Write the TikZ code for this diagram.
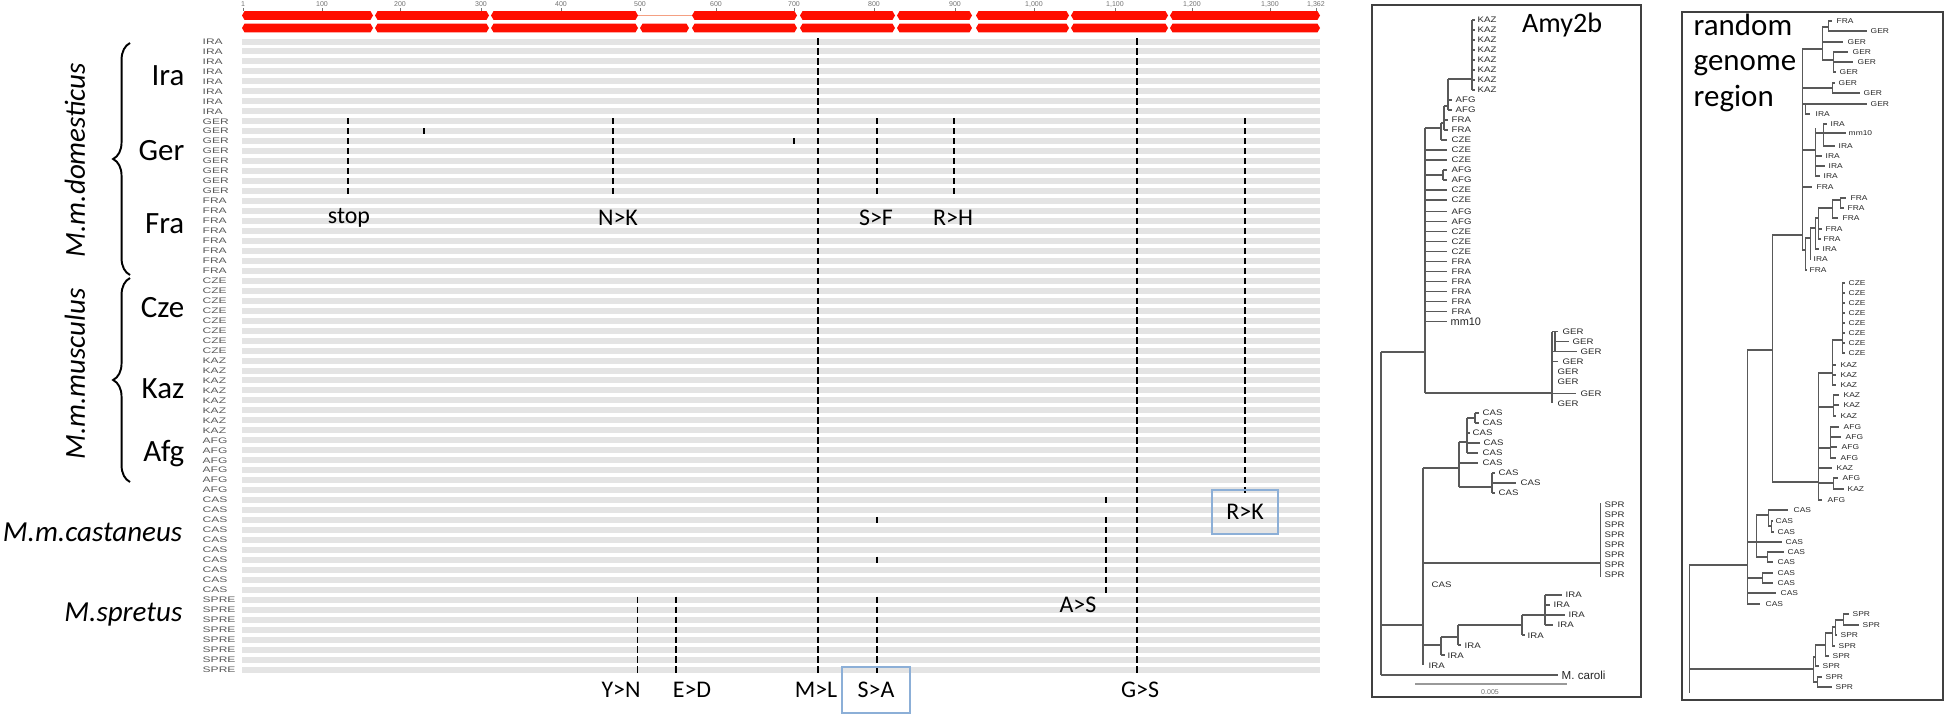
\documentclass[tikz,border=0pt]{standalone}
\usepackage{fontspec}
\setmainfont{Carlito}
\newfontfamily\labfont{Liberation Sans}
\usepackage{graphicx}
\usetikzlibrary{decorations.pathreplacing}
\definecolor{barcol}{RGB}{228,228,228}
\definecolor{segred}{RGB}{255,14,0}
\definecolor{thinorange}{RGB}{244,160,130}
\definecolor{boxblue}{RGB}{140,175,215}
\newcommand\mutmark[3]{\foreach \r in {#2}{\draw[line width=#3*0.2845pt] (#1,{41.5+9.97*\r-3.2}) -- (#1,{41.5+9.97*\r+3.2});}}
\newcommand\seg[3]{\fill[segred] (#1+2.5,#3-4.3) -- (#2-2.5,#3-4.3) -- (#2,#3) -- (#2-2.5,#3+4.3) -- (#1+2.5,#3+4.3) -- (#1,#3) -- cycle;}
\newcommand\leaf[3]{\node[tlab] at (#1,{#2}) {\scalebox{1.2}[1]{#3}};}
\newcommand\rleaf[3]{\node[rlab] at (#1,{#2}) {\scalebox{1.2}[1]{#3}};}
\tikzset{
  tree/.style={draw=black!65, line width=0.3pt},
  tlab/.style={font=\labfont\fontsize{2.28pt}{2.6pt}\selectfont, text=black!85, inner sep=0pt, anchor=west},
  rlab/.style={font=\labfont\fontsize{2.0pt}{2.3pt}\selectfont, text=black!85, inner sep=0pt, anchor=west},
  rowlab/.style={font=\labfont\fontsize{2.28pt}{2.6pt}\selectfont, text=black!65, inner sep=0pt, anchor=west},
  ruler/.style={font=\labfont\fontsize{2.0pt}{2.3pt}\selectfont, text=black!55, inner sep=0pt},
  grp/.style={font=\fontsize{8.8pt}{10pt}\selectfont, inner sep=0pt, anchor=base east},
  spec/.style={font=\itshape\fontsize{8.25pt}{10pt}\selectfont, inner sep=0pt},
  mlab/.style={font=\fontsize{6.8pt}{8pt}\selectfont, inner sep=0pt},
  hbox/.style={draw=boxblue, line width=0.35pt},
  panel/.style={draw=black!75, line width=0.6pt},
  brc/.style={decorate, decoration={brace, amplitude=4.8pt}, line width=0.55pt}
}
\begin{document}
\begin{tikzpicture}[x=0.01cm,y=-0.01cm]
\useasboundingbox (0,0) rectangle (1946,715);
\fill[white] (0,0) rectangle (1946,715);
% ---------- ruler ----------
\foreach \x/\t in {243/1,322/100,400/200,481/300,561/400,640/500,716/600,794/700,874/800,955/900,1034/{1,000},1115/{1,100},1192/{1,200},1270/{1,300},1316/{1,362}}{
  \node[ruler] at (\x,4.5) {\t};
  \draw[black!55, line width=0.25pt] (\x,8) -- (\x,10.5);
}
% ---------- red segments ----------
\draw[thinorange, line width=0.45pt] (636,15.5) -- (694,15.5);
\foreach \a/\b in {242/373,375/489,491/638,692/797,800/895,897/972,976/1069,1071/1168,1170/1320}{\seg{\a}{\b}{15.5}}
\foreach \a/\b in {242/373,375/489,491/638,640/689,692/797,800/895,897/972,976/1069,1071/1168,1170/1320}{\seg{\a}{\b}{28}}
% ---------- grey rows ----------
\foreach \i in {0,...,63}{\fill[barcol] (242,{41.5+9.97*\i-3}) rectangle (1320,{41.5+9.97*\i+3});}
\foreach \n [count=\i from 0] in {IRA,IRA,IRA,IRA,IRA,IRA,IRA,IRA,GER,GER,GER,GER,GER,GER,GER,GER,FRA,FRA,FRA,FRA,FRA,FRA,FRA,FRA,CZE,CZE,CZE,CZE,CZE,CZE,CZE,CZE,KAZ,KAZ,KAZ,KAZ,KAZ,KAZ,KAZ,KAZ,AFG,AFG,AFG,AFG,AFG,AFG,CAS,CAS,CAS,CAS,CAS,CAS,CAS,CAS,CAS,CAS,SPRE,SPRE,SPRE,SPRE,SPRE,SPRE,SPRE,SPRE}{
  \node[rowlab] (rl\i) at (202,{41.5+9.97*\i}) {\scalebox{1.5}[1]{\n}};
}
% ---------- mutations ----------
\mutmark{348}{8,...,15}{2}
\mutmark{424}{9}{2.5}
\mutmark{613}{8,...,15}{2.5}
\mutmark{794}{10}{1.5}
\mutmark{818}{0,...,63}{1.8}
\mutmark{877}{8,...,15}{2}
\mutmark{954}{8,...,15}{2}
\mutmark{1245}{8,...,45}{2}
\mutmark{1137}{0,...,63}{1.8}
\mutmark{1106}{46,48,49,50,51,52,53,54,55}{2}
\mutmark{877}{48,52,56,57,58,59,60,61,62,63}{2}
\mutmark{637}{56,...,63}{1}
\mutmark{676}{56,...,63}{2.5}
% ---------- mutation labels ----------
\node[mlab] (stop) at (349,218) {stop};
\node[mlab] (nk) at (618,218) {N>K};
\node[mlab] (sf) at (876,218) {S>F};
\node[mlab] (rh) at (953,218) {R>H};
\node[mlab] (as) at (1078,605) {A>S};
\node[mlab] (yn) at (621,690) {Y>N};
\node[mlab] (ed) at (692,690) {E>D};
\node[mlab] (ml) at (816,690) {M>L};
\node[mlab] (sa) at (876,690) {S>A};
\node[mlab] (gs) at (1140,690) {G>S};
\node[mlab] (rk) at (1245,512) {R>K};
\draw[hbox] (842,667) rectangle (910,713);
\draw[hbox] (1212,490) rectangle (1278,534);
% ---------- group labels ----------
\node[grp] (ira) at (185,85) {Ira};
\node[grp] (ger) at (185,160) {Ger};
\node[grp] (fra) at (185,233) {Fra};
\node[grp] (cze) at (185,317) {Cze};
\node[grp] (kaz) at (185,398) {Kaz};
\node[grp] (afg) at (185,461) {Afg};
\draw[brc] (130,275) -- (130,43);
\draw[brc] (130,482) -- (130,278);
\node[spec, rotate=90] (dom) at (75,160) {M.m.domesticus};
\node[spec, rotate=90] (mus) at (75,374) {M.m.musculus};
\node[spec, anchor=east] (cas) at (183,532) {M.m.castaneus};
\node[spec, anchor=east] (spr) at (183,615) {M.spretus};
% ================= Amy2b panel =================
\draw[panel] (1372,5) rectangle (1641,697);
\node[font=\fontsize{8pt}{9pt}\selectfont, inner sep=0pt, anchor=base] (amy) at (1562,32) {Amy2b};
\draw[tree] (1381,352) -- (1381,675);
\draw[tree] (1381,352) -- (1425,352) (1381,625) -- (1423,625) (1381,675) -- (1558,675);
\node[tlab, font=\labfont\fontsize{3.3pt}{3.6pt}\selectfont] (caroli) at (1561,675) {M. caroli};
\draw[tree] (1425,128) -- (1425,393) (1425,128) -- (1441,128);
\draw[tree] (1441,123) -- (1441,140) (1441,140) -- (1447,140);
\draw[tree] (1441,123) -- (1444,123) (1444,106) -- (1444,130) (1444,120) -- (1448,120) (1444,130) -- (1448,130);
\draw[tree] (1444,106) -- (1448,106) (1448,79) -- (1448,110) (1448,100) -- (1452,100) (1448,110) -- (1452,110);
\draw[tree] (1448,79) -- (1472,79) (1472,20) -- (1472,90);
\foreach \k in {0,...,7}{\draw[tree] (1472,{20+10*\k}) -- (1475,{20+10*\k}); \leaf{1477}{20+10*\k}{KAZ}}
\leaf{1455}{100}{AFG}\leaf{1455}{110}{AFG}\leaf{1451}{120}{FRA}\leaf{1451}{130}{FRA}\leaf{1451}{140}{CZE}
\foreach \y/\t in {150/CZE,160/CZE,190/CZE,200/CZE,211.7/AFG,221.7/AFG,231.7/CZE,241.7/CZE,251.7/CZE,261.7/FRA,271.7/FRA,281.7/FRA,291.7/FRA,301.7/FRA,311.7/FRA}{\draw[tree] (1425,\y) -- (1447,\y); \leaf{1451}{\y}{\t}}
\draw[tree] (1425,175) -- (1443,175) (1443,170) -- (1443,180) (1443,170) -- (1447,170) (1443,180) -- (1447,180);
\leaf{1451}{170}{AFG}\leaf{1451}{180}{AFG}
\draw[tree] (1425,321.7) -- (1447,321.7);
\node[tlab, font=\labfont\fontsize{3.1pt}{3.4pt}\selectfont] (mmA) at (1450,321.7) {mm10};
% GER
\draw[tree] (1425,393) -- (1552,393) (1552,332) -- (1552,403) (1555,332) -- (1555,352);
\draw[tree] (1552,331.7) -- (1558,331.7) (1555,341.7) -- (1569,341.7) (1552,351.7) -- (1577,351.7) (1552,361.7) -- (1558,361.7) (1552,393.3) -- (1576,393.3);
\leaf{1562}{331.7}{GER}\leaf{1572}{341.7}{GER}\leaf{1580}{351.7}{GER}\leaf{1562}{361.7}{GER}\leaf{1557}{371.7}{GER}\leaf{1557}{381.7}{GER}\leaf{1580}{393.3}{GER}\leaf{1557}{403.3}{GER}
% clade b
\draw[tree] (1423,468) -- (1423,665);
\draw[tree] (1423,468) -- (1459,468) (1459,442) -- (1459,487) (1459,442) -- (1467,442) (1467,418) -- (1467,453) (1467,418) -- (1475,418) (1475,413) -- (1475,423);
\draw[tree] (1475,413) -- (1479,413) (1475,423) -- (1479,423) (1467,433) -- (1470,433) (1467,443) -- (1480,443) (1467,453) -- (1478,453) (1459,463) -- (1478,463);
\leaf{1482}{413}{CAS}\leaf{1482}{423}{CAS}\leaf{1472}{433}{CAS}\leaf{1483}{443}{CAS}\leaf{1482}{453}{CAS}\leaf{1482}{463}{CAS}
\draw[tree] (1459,487) -- (1492,487) (1492,473) -- (1492,493) (1492,473) -- (1495,473) (1492,483) -- (1516,483) (1492,493) -- (1495,493);
\leaf{1498}{473}{CAS}\leaf{1520}{483}{CAS}\leaf{1498}{493}{CAS}
\draw[tree] (1423,563) -- (1600,563) (1600,503) -- (1600,577);
\foreach \k in {0,...,7}{\leaf{1604}{505+10*\k}{SPR}}
\leaf{1431}{585}{CAS}
\draw[tree] (1423,645) -- (1441,645) (1441,637) -- (1441,655) (1441,655) -- (1445,655);
\draw[tree] (1441,637) -- (1458,637) (1458,625) -- (1458,645) (1458,645) -- (1461,645);
\draw[tree] (1458,625) -- (1522,625) (1522,615) -- (1522,635) (1522,635) -- (1525,635);
\draw[tree] (1522,615) -- (1545,615) (1545,595) -- (1545,625) (1545,595) -- (1562,595) (1545,605) -- (1550,605) (1545,615) -- (1565,615) (1545,625) -- (1553,625);
\leaf{1447}{656}{IRA}\leaf{1464}{646}{IRA}\leaf{1527}{636}{IRA}\leaf{1565}{595}{IRA}\leaf{1553}{605}{IRA}\leaf{1568}{615}{IRA}\leaf{1557}{625}{IRA}\leaf{1428}{666}{IRA}
\draw[black!40, line width=0.45pt] (1415,684) -- (1567,684);
\node[ruler] (sc) at (1490,692) {0.005};
% ================= random genome region panel =================
\draw[panel] (1682,12) rectangle (1943,700);
\node[font=\fontsize{8.8pt}{10pt}\selectfont, inner sep=0pt, anchor=base west] (r1) at (1693,35) {random};
\node[font=\fontsize{8.8pt}{10pt}\selectfont, inner sep=0pt, anchor=base west] (r2) at (1693,70) {genome};
\node[font=\fontsize{8.8pt}{10pt}\selectfont, inner sep=0pt, anchor=base west] (r3) at (1693,106) {region};
\draw[tree] (1689,565) -- (1689,693) (1689,565) -- (1747,565) (1689,669) -- (1813,669);
\draw[tree] (1747,350) -- (1747,605) (1747,350) -- (1772,350) (1772,235) -- (1772,482) (1772,235) -- (1802,235) (1772,482) -- (1818,482);
% CAS
\draw[tree] (1747,542) -- (1756,542) (1756,515) -- (1756,557) (1756,515) -- (1768,515) (1768,510) -- (1768,526) (1768,510) -- (1788,510) (1768,526) -- (1771,526) (1771,521) -- (1771,532) (1771,521) -- (1773,521) (1771,532) -- (1774,532);
\draw[tree] (1756,542) -- (1782,542) (1756,557) -- (1767,557) (1767,552) -- (1767,562) (1767,552) -- (1784,552) (1767,562) -- (1773,562);
\draw[tree] (1747,578) -- (1762,578) (1762,573) -- (1762,583) (1762,573) -- (1773,573) (1762,583) -- (1773,583) (1747,593) -- (1776,593) (1747,604) -- (1760,604);
\rleaf{1793}{510}{CAS}\rleaf{1775}{521}{CAS}\rleaf{1777}{532}{CAS}\rleaf{1785}{542}{CAS}\rleaf{1787}{552}{CAS}\rleaf{1777}{562}{CAS}\rleaf{1777}{573}{CAS}\rleaf{1777}{583}{CAS}\rleaf{1780}{593}{CAS}\rleaf{1765}{604}{CAS}
% node D
\draw[tree] (1802,49) -- (1802,250) (1802,49) -- (1822,49) (1822,27) -- (1822,60) (1822,27) -- (1828,27) (1828,21) -- (1828,31) (1828,21) -- (1832,21) (1828,31) -- (1867,31) (1822,42) -- (1843,42);
\draw[tree] (1822,60) -- (1833,60) (1833,52) -- (1833,72) (1833,52) -- (1848,52) (1833,62) -- (1853,62) (1833,72) -- (1836,72);
\rleaf{1836}{21}{FRA}\rleaf{1870}{31}{GER}\rleaf{1847}{42}{GER}\rleaf{1852}{52}{GER}\rleaf{1857}{62}{GER}\rleaf{1839}{72}{GER}
\draw[tree] (1802,88) -- (1832,88) (1832,83) -- (1832,93) (1832,83) -- (1835,83) (1832,93) -- (1860,93);
\rleaf{1838}{83}{GER}\rleaf{1863}{93}{GER}
\draw[tree] (1802,104) -- (1805,104) (1805,104) -- (1805,114) (1805,104) -- (1867,104) (1805,114) -- (1810,114);
\rleaf{1870}{104}{GER}\rleaf{1815}{114}{IRA}
\draw[tree] (1802,150) -- (1815,150) (1815,128) -- (1815,176) (1815,133) -- (1823,133) (1823,124) -- (1823,146) (1823,124) -- (1827,124) (1823,133) -- (1846,133) (1823,146) -- (1835,146) (1815,156) -- (1822,156) (1815,166) -- (1825,166) (1815,176) -- (1820,176);
\rleaf{1830}{124}{IRA}\rleaf{1848}{133}{mm10}\rleaf{1838}{146}{IRA}\rleaf{1825}{156}{IRA}\rleaf{1828}{166}{IRA}\rleaf{1823}{176}{IRA}
\draw[tree] (1802,187) -- (1812,187);
\rleaf{1816}{187}{FRA}
\draw[tree] (1802,250) -- (1805,250) (1805,238) -- (1805,270) (1805,270) -- (1807,270) (1805,238) -- (1810,238) (1810,228) -- (1810,259) (1810,259) -- (1811,259) (1810,228) -- (1815,228) (1815,218) -- (1815,249) (1815,249) -- (1819,249) (1815,218) -- (1818,218) (1818,208) -- (1818,239) (1818,229) -- (1822,229) (1818,239) -- (1821,239) (1818,208) -- (1832,208) (1832,200) -- (1832,218) (1832,218) -- (1838,218) (1832,200) -- (1840,200) (1840,198) -- (1840,208) (1840,198) -- (1846,198) (1840,208) -- (1844,208);
\rleaf{1850}{198}{FRA}\rleaf{1847}{208}{FRA}\rleaf{1842}{218}{FRA}\rleaf{1825}{229}{FRA}\rleaf{1823}{239}{FRA}\rleaf{1822}{249}{IRA}\rleaf{1813}{259}{IRA}\rleaf{1809}{270}{FRA}
% node E
\draw[tree] (1818,373) -- (1818,500) (1818,373) -- (1832,373) (1832,340) -- (1832,385) (1832,340) -- (1842,340) (1842,283) -- (1842,353);
\foreach \k in {0,...,7}{\draw[tree] (1842,{283+10*\k}) -- (1845,{283+10*\k}); \rleaf{1848}{283+10*\k}{CZE}}
\draw[tree] (1832,365) -- (1836,365) (1832,375) -- (1836,375) (1832,385) -- (1836,385);
\rleaf{1840}{365}{KAZ}\rleaf{1840}{375}{KAZ}\rleaf{1840}{385}{KAZ}
\draw[tree] (1818,407) -- (1833,407) (1833,395) -- (1833,416) (1833,395) -- (1839,395) (1833,405) -- (1839,405) (1833,416) -- (1836,416);
\rleaf{1843}{395}{KAZ}\rleaf{1843}{405}{KAZ}\rleaf{1840}{416}{KAZ}
\draw[tree] (1818,448) -- (1830,448) (1830,427) -- (1830,458) (1830,427) -- (1839,427) (1830,437) -- (1841,437) (1830,447) -- (1837,447) (1830,458) -- (1836,458);
\rleaf{1843}{427}{AFG}\rleaf{1845}{437}{AFG}\rleaf{1841}{447}{AFG}\rleaf{1840}{458}{AFG}
\draw[tree] (1818,468) -- (1832,468) (1818,483) -- (1833,483) (1833,478) -- (1833,489) (1833,478) -- (1838,478) (1833,489) -- (1844,489) (1818,500) -- (1822,500);
\rleaf{1836}{468}{KAZ}\rleaf{1842}{478}{AFG}\rleaf{1847}{489}{KAZ}\rleaf{1827}{500}{AFG}
% SPR
\draw[tree] (1813,657) -- (1813,682) (1813,657) -- (1815,657) (1815,645) -- (1815,666) (1815,666) -- (1819,666) (1815,645) -- (1825,645) (1825,633) -- (1825,656) (1825,656) -- (1829,656) (1825,633) -- (1832,633) (1832,627) -- (1832,646) (1832,646) -- (1835,646) (1832,627) -- (1835,627) (1835,620) -- (1835,635) (1835,635) -- (1837,635) (1835,620) -- (1843,620) (1843,614) -- (1843,625) (1843,614) -- (1849,614) (1843,625) -- (1859,625) (1813,682) -- (1817,682) (1817,677) -- (1817,687) (1817,677) -- (1822,677) (1817,687) -- (1832,687);
\rleaf{1852}{614}{SPR}\rleaf{1862}{625}{SPR}\rleaf{1840}{635}{SPR}\rleaf{1838}{646}{SPR}\rleaf{1832}{656}{SPR}\rleaf{1822}{666}{SPR}\rleaf{1825}{677}{SPR}\rleaf{1835}{687}{SPR}
\end{tikzpicture}
\end{document}
